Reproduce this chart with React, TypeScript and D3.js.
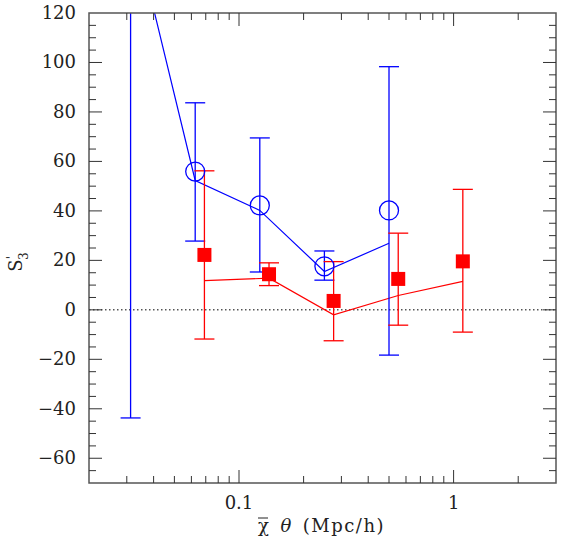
import React from "react";
import * as d3 from "d3";

// Blue series (open circles)
const blueX = [0.03125, 0.0625, 0.125, 0.25, 0.5];
const blueY = [160, 55.9, 42.2, 17.6, 40.2];
const blueHi = [200, 83.7, 69.5, 23.8, 98.3];
const blueLo = [-43.7, 27.8, 15.3, 12.0, -18.3];
const blueModel = [160, 52.3, 40.2, 15.5, 26.9];

// Red series (filled squares)
const redX = [0.069, 0.138, 0.276, 0.552, 1.104];
const redY = [22.2, 14.4, 3.6, 12.5, 19.6];
const redHi = [56.2, 19.0, 19.5, 31.0, 48.7];
const redLo = [-11.8, 9.8, -12.5, -6.2, -9.0];
const redModel = [11.8, 12.8, -2.0, 5.8, 11.5];

const xTickLabels = [
  { v: 0.1, t: "0.1" },
  { v: 1, t: "1" },
];
const yTickValues = [-60, -40, -20, 0, 20, 40, 60, 80, 100, 120];

const W = 565;
const H = 545;
const L = 89, R = 556, T = 13, B = 483;
const FONT = "DejaVu Serif";

export default function App() {
  const x = d3.scaleLog().domain([0.02, 3]).range([L, R]);
  const y = d3.scaleLinear().domain([-70, 120]).range([B, T]);

  const line = d3
    .line<[number, number]>()
    .x((d) => x(d[0]))
    .y((d) => y(d[1]));

  const xMinor: number[] = [];
  for (const dec of [0.01, 0.1, 1]) {
    for (let k = 2; k <= 9; k++) {
      const v = dec * k;
      if (v > 0.0201 && v < 2.99) xMinor.push(v);
    }
  }
  const xMajor = [0.1, 1];
  const yMinor: number[] = [];
  for (let v = -65; v < 120; v += 5) if (v % 20 !== 0) yMinor.push(v);
  const yMajor = [-60, -40, -20, 0, 20, 40, 60, 80, 100];

  const cap = 10;
  const tickCol = "#333";

  return (
    <svg width={W} height={H} style={{ display: "block", position: "absolute", left: 0, top: 0 }}>
      <defs>
        <clipPath id="plot">
          <rect x={L} y={T} width={R - L} height={B - T} />
        </clipPath>
      </defs>
      <rect x={0} y={0} width={W} height={H} fill="#fff" />

      {/* zero line */}
      <line x1={L} x2={R} y1={y(0)} y2={y(0)} stroke="#000" strokeWidth={1} strokeDasharray="1.5,2.5" />

      <g clipPath="url(#plot)">
        <path d={line(blueX.map((v, i) => [v, blueModel[i]]) as [number, number][]) || ""} fill="none" stroke="#0000ff" strokeWidth={1.2} />
        <path d={line(redX.map((v, i) => [v, redModel[i]]) as [number, number][]) || ""} fill="none" stroke="#ff0000" strokeWidth={1.2} />

        {blueX.map((v, i) => (
          <g key={"be" + i} stroke="#0000ff" strokeWidth={1.3}>
            <line x1={x(v)} x2={x(v)} y1={y(blueHi[i])} y2={y(blueLo[i])} />
            <line x1={x(v) - cap} x2={x(v) + cap} y1={y(blueHi[i])} y2={y(blueHi[i])} />
            <line x1={x(v) - cap} x2={x(v) + cap} y1={y(blueLo[i])} y2={y(blueLo[i])} />
          </g>
        ))}
        {redX.map((v, i) => (
          <g key={"re" + i} stroke="#ff0000" strokeWidth={1.3}>
            <line x1={x(v)} x2={x(v)} y1={y(redHi[i])} y2={y(redLo[i])} />
            <line x1={x(v) - cap} x2={x(v) + cap} y1={y(redHi[i])} y2={y(redHi[i])} />
            <line x1={x(v) - cap} x2={x(v) + cap} y1={y(redLo[i])} y2={y(redLo[i])} />
          </g>
        ))}
        {blueX.map((v, i) => (
          <circle key={"bc" + i} cx={x(v)} cy={y(blueY[i])} r={9.5} fill="none" stroke="#0000ff" strokeWidth={1.3} />
        ))}
        {redX.map((v, i) => (
          <rect key={"rs" + i} x={x(v) - 7} y={y(redY[i]) - 7} width={14} height={14} fill="#ff0000" />
        ))}
      </g>

      <rect x={L} y={T} width={R - L} height={B - T} fill="none" stroke="#555" strokeWidth={1.5} />

      {xMinor.map((v) => (
        <g key={"xm" + v} stroke={tickCol} strokeWidth={1}>
          <line x1={x(v)} x2={x(v)} y1={B} y2={B - 7} />
          <line x1={x(v)} x2={x(v)} y1={T} y2={T + 7} />
        </g>
      ))}
      {xMajor.map((v) => (
        <g key={"xM" + v} stroke={tickCol} strokeWidth={1}>
          <line x1={x(v)} x2={x(v)} y1={B} y2={B - 13} />
          <line x1={x(v)} x2={x(v)} y1={T} y2={T + 13} />
        </g>
      ))}
      {yMinor.map((v) => (
        <g key={"ym" + v} stroke={tickCol} strokeWidth={1}>
          <line x1={L} x2={L + 7} y1={y(v)} y2={y(v)} />
          <line x1={R} x2={R - 7} y1={y(v)} y2={y(v)} />
        </g>
      ))}
      {yMajor.map((v) => (
        <g key={"yM" + v} stroke={tickCol} strokeWidth={1}>
          <line x1={L} x2={L + 13} y1={y(v)} y2={y(v)} />
          <line x1={R} x2={R - 13} y1={y(v)} y2={y(v)} />
        </g>
      ))}

      {yTickValues.map((v) => (
        <text key={"yl" + v} x={76} y={y(v) + 6} textAnchor="end" fontFamily={FONT} fontSize={18} fill="#222">
          {v < 0 ? "\u2212" + Math.abs(v) : String(v)}
        </text>
      ))}
      {xTickLabels.map((d) => (
        <text key={"xl" + d.t} x={x(d.v)} y={509} textAnchor="middle" fontFamily={FONT} fontSize={18} fill="#222">
          {d.t}
        </text>
      ))}

      <text x={258} y={532} fontFamily={FONT} fontSize={18} fill="#222" letterSpacing={1.5}>
        <tspan>χ</tspan>
        <tspan dx={10} fontStyle="italic">θ</tspan>
        <tspan dx={10}>(Mpc/h)</tspan>
      </text>
      <line x1={258} x2={268} y1={518} y2={518} stroke="#222" strokeWidth={1} />

      <g transform="translate(22,262) rotate(-90)">
        <text x={0} y={0} textAnchor="middle" fontFamily={FONT} fontSize={18} fill="#222">
          <tspan>S</tspan>
          <tspan dy={-6} fontSize={12}>'</tspan>
          <tspan dx={-4} dy={12} fontSize={12}>3</tspan>
        </text>
      </g>
    </svg>
  );
}
